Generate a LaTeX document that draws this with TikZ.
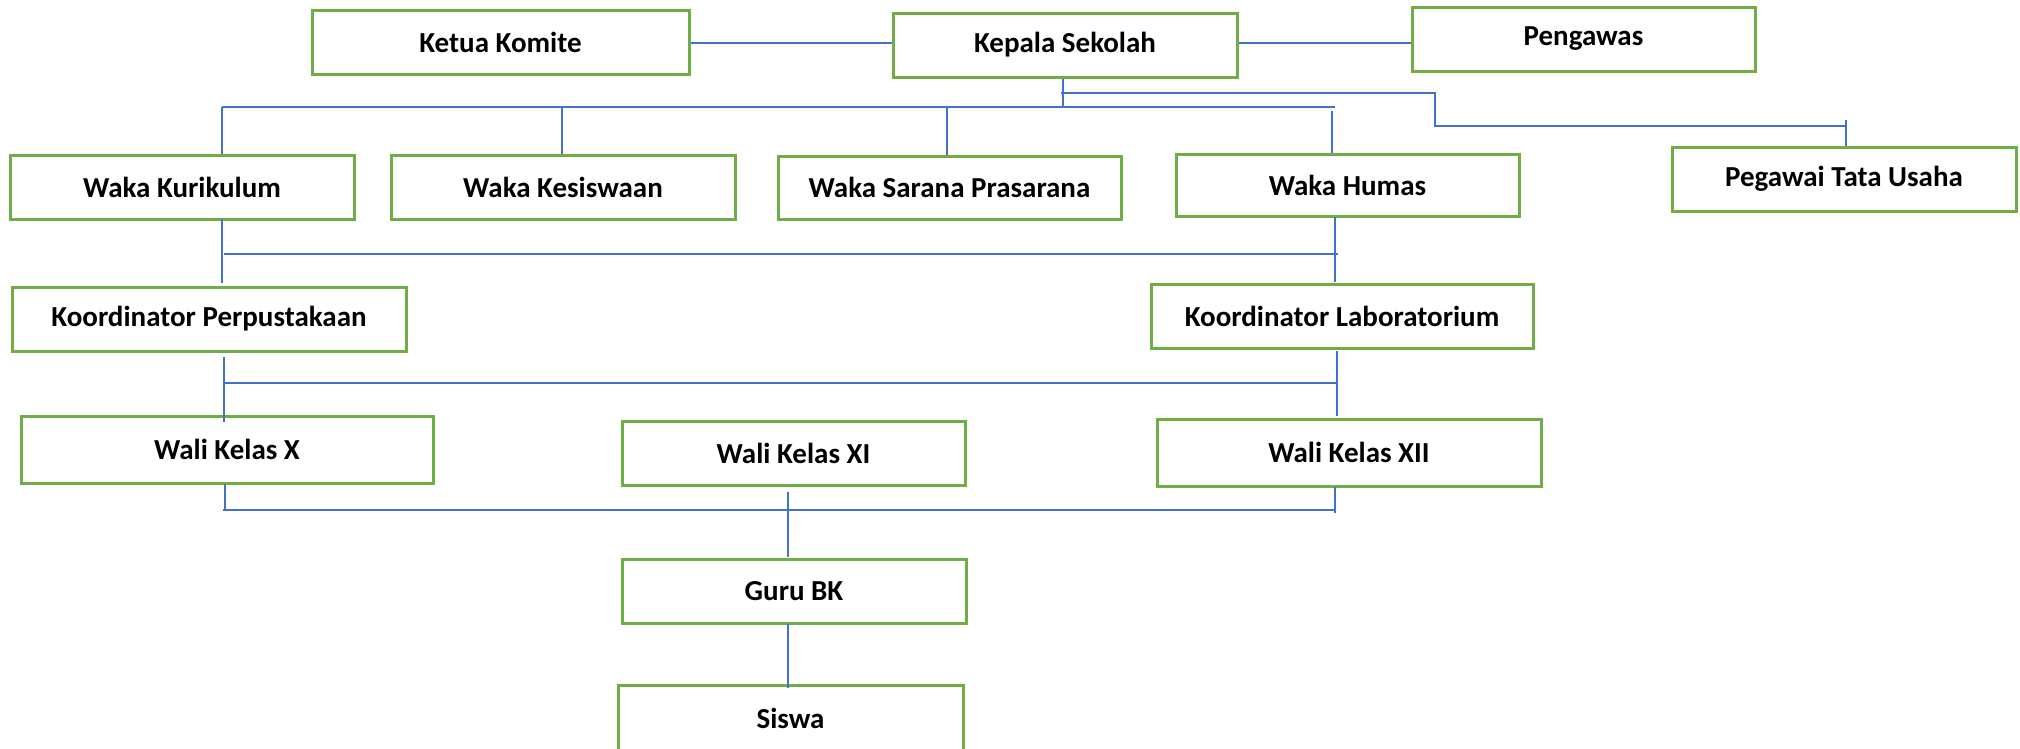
\documentclass[tikz,border=0pt]{standalone}
\usepackage{fontspec}
\setmainfont{Carlito}
\definecolor{boxgreen}{HTML}{70AD47}
\definecolor{linkblue}{HTML}{4472C4}
\tikzset{
  orgbox/.style={draw=boxgreen, line width=3pt, fill=white, inner sep=0pt,
    font=\fontsize{29}{33}\selectfont\bfseries, align=center},
  link/.style={draw=linkblue, line width=1.3pt}
}
\begin{document}
\begin{tikzpicture}[x=1pt,y=-1pt]
\useasboundingbox (0,0) rectangle (2020,748);
\fill[white] (0,0) rectangle (2020,748);
% helper coordinates
\coordinate (toprow) at (0,43);
\coordinate (kdrop) at (1063,79);
\coordinate (busL) at (222,107);
\coordinate (busR) at (1335,107);
\coordinate (d2) at (562,107);
\coordinate (d3) at (947,107);
\coordinate (d4) at (1332,111);
\coordinate (tuA) at (1061,93);
\coordinate (tuB) at (1435,93);
\coordinate (tuC) at (1435,126);
\coordinate (tuD) at (1846,126);
\coordinate (tuT) at (1846,120);
\coordinate (v1a) at (222,219);
\coordinate (v1b) at (222,283);
\coordinate (v2a) at (1335,217);
\coordinate (v2b) at (1335,282);
\coordinate (m1L) at (224,254);
\coordinate (m1R) at (1338,254);
\coordinate (v3a) at (224,357);
\coordinate (v3b) at (224,422);
\coordinate (v4a) at (1337,351);
\coordinate (v4b) at (1337,416);
\coordinate (m2L) at (224,383);
\coordinate (m2R) at (1337,383);
\coordinate (v5a) at (225,484);
\coordinate (v5b) at (225,510);
\coordinate (v6a) at (1335,487);
\coordinate (v6b) at (1335,513);
\coordinate (v7a) at (788,492);
\coordinate (v7b) at (788,557);
\coordinate (v8a) at (788,624);
\coordinate (v8b) at (788,688);
\coordinate (m3L) at (223,510);
\coordinate (m3R) at (1335,510);

% nodes
\node[orgbox, minimum width=377pt, minimum height=64pt] (ketua) at (500.5,42) {Ketua Komite};
\node[orgbox, minimum width=344pt, minimum height=64pt] (kepala) at (1065,45) {Kepala Sekolah};
\node[orgbox, minimum width=343pt, minimum height=64pt] (pengawas) at (1583.5,39) {Pengawas};
\node[orgbox, minimum width=344pt, minimum height=64pt] (kurikulum) at (182,187) {Waka Kurikulum};
\node[orgbox, minimum width=344pt, minimum height=64pt] (kesiswaan) at (563,187) {Waka Kesiswaan};
\node[orgbox, minimum width=343pt, minimum height=63pt] (sarana) at (949.5,187.5) {Waka Sarana Prasarana};
\node[orgbox, minimum width=343pt, minimum height=62pt] (humas) at (1347.5,185) {Waka Humas};
\node[orgbox, minimum width=344pt, minimum height=64pt] (tu) at (1844,179) {Pegawai Tata Usaha};
\node[orgbox, minimum width=394pt, minimum height=64pt] (perpus) at (209,319) {Koordinator Perpustakaan};
\node[orgbox, minimum width=382pt, minimum height=64pt] (lab) at (1342,316) {Koordinator Laboratorium};
\node[orgbox, minimum width=412pt, minimum height=67pt] (walix) at (227,449.5) {Wali Kelas X};
\node[orgbox, minimum width=343pt, minimum height=64pt] (walixi) at (793.5,453) {Wali Kelas XI};
\node[orgbox, minimum width=384pt, minimum height=67pt] (walixii) at (1349,452.5) {Wali Kelas XII};
\node[orgbox, minimum width=344pt, minimum height=64pt] (guru) at (794,591) {Guru BK};
\node[orgbox, minimum width=345pt, minimum height=66pt] (siswa) at (790.5,718) {Siswa};

% top row links
\draw[link] (ketua.east |- toprow) -- (kepala.west |- toprow);
\draw[link] (kepala.east |- toprow) -- (pengawas.west |- toprow);
% Kepala to Waka bus
\draw[link] (kdrop) -- (kdrop |- busL);
\draw[link] (busL) -- (busR);
\draw[link] (busL) -- (busL |- kurikulum.north);
\draw[link] (d2) -- (d2 |- kesiswaan.north);
\draw[link] (d3) -- (d3 |- sarana.north);
\draw[link] (d4) -- (d4 |- humas.north);
% Kepala to Tata Usaha
\draw[link] (tuA) -- (tuB) -- (tuC) -- (tuD);
\draw[link] (tuT) -- (tuT |- tu.north);
% Waka to Koordinator
\draw[link] (v1a) -- (v1b);
\draw[link] (m1L) -- (m1R);
\draw[link] (v2a) -- (v2b);
% Koordinator to Wali Kelas
\draw[link] (v3a) -- (v3b);
\draw[link] (m2L) -- (m2R);
\draw[link] (v4a) -- (v4b);
% Wali Kelas to Guru BK
\draw[link] (v5a) -- (v5b);
\draw[link] (m3L) -- (m3R);
\draw[link] (v6a) -- (v6b);
\draw[link] (v7a) -- (v7b);
% Guru BK to Siswa
\draw[link] (v8a) -- (v8b);
\end{tikzpicture}
\end{document}
